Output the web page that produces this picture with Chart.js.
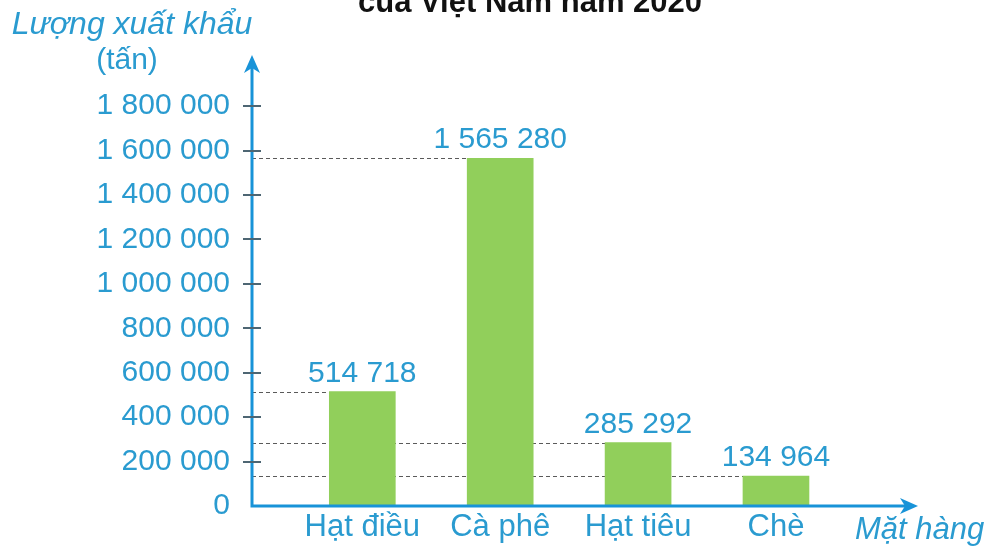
<!DOCTYPE html>
<html lang="vi">
<head>
<meta charset="utf-8">
<title>Lượng xuất khẩu của Việt Nam năm 2020</title>
<script src="https://cdn.jsdelivr.net/npm/chart.js@4.4.1/dist/chart.umd.min.js"></script>
<style>
  html, body { margin: 0; padding: 0; background: #fff; }
  #chart { display: block; }
</style>
</head>
<body>
<canvas id="chart" width="1002" height="553"></canvas>
<script>
// Lượng xuất khẩu (tấn) theo mặt hàng, năm 2020
var categories = ["Hạt điều", "Cà phê", "Hạt tiêu", "Chè"];
var exportTonnes = [514718, 1565280, 285292, 134964];
var yTicks = [0, 200000, 400000, 600000, 800000, 1000000, 1200000, 1400000, 1600000, 1800000];

var TEXT_BLUE = "#2a9bd0";
var AXIS_BLUE = "#1893d8";
var BAR_GREEN = "#91cf5b";
var FONT = "'Liberation Sans', Arial, sans-serif";

function fmt(n) {
    return String(n).replace(/\B(?=(\d{3})+(?!\d))/g, " ");
}

function arrowHead(ctx, x, y, dir) {
    // dir: "up" or "right"; (x, y) is the tip
    ctx.beginPath();
    if (dir === "up") {
        ctx.moveTo(x, y);
        ctx.lineTo(x + 8, y + 18);
        ctx.lineTo(x, y + 13);
        ctx.lineTo(x - 8, y + 18);
    } else {
        ctx.moveTo(x, y);
        ctx.lineTo(x - 18, y - 8);
        ctx.lineTo(x - 13, y);
        ctx.lineTo(x - 18, y + 8);
    }
    ctx.closePath();
    ctx.fill();
}

var decorations = {
    id: "decorations",
    beforeDatasetsDraw: function(chart) {
        // dotted guides from the y axis to each bar top
        var ctx = chart.ctx, area = chart.chartArea;
        var bars = chart.getDatasetMeta(0).data;
        ctx.save();
        ctx.strokeStyle = "#5a5a5a";
        ctx.lineWidth = 1.2;
        ctx.setLineDash([4, 3]);
        bars.forEach(function(bar) {
            var y = Math.round(bar.y) + 0.5;
            ctx.beginPath();
            ctx.moveTo(area.left, y);
            ctx.lineTo(bar.x - bar.width / 2, y);
            ctx.stroke();
        });
        ctx.restore();
    },
    afterDatasetsDraw: function(chart) {
        var ctx = chart.ctx, area = chart.chartArea;
        var yScale = chart.scales.y;
        var bars = chart.getDatasetMeta(0).data;
        ctx.save();

        // axes with arrows
        ctx.strokeStyle = AXIS_BLUE;
        ctx.fillStyle = AXIS_BLUE;
        ctx.lineWidth = 3;
        ctx.beginPath();
        ctx.moveTo(area.left, area.bottom + 1.5);
        ctx.lineTo(area.left, area.top + 10);
        ctx.moveTo(area.left - 1.5, area.bottom);
        ctx.lineTo(area.right - 10, area.bottom);
        ctx.stroke();
        arrowHead(ctx, area.left, area.top, "up");
        arrowHead(ctx, area.right, area.bottom, "right");

        // cross tick marks on the y axis
        ctx.strokeStyle = "#4d6673";
        ctx.lineWidth = 2;
        yTicks.forEach(function(v) {
            if (v === 0) return;
            var y = Math.round(yScale.getPixelForValue(v));
            ctx.beginPath();
            ctx.moveTo(area.left - 9, y);
            ctx.lineTo(area.left + 9, y);
            ctx.stroke();
        });

        // value labels above bars
        ctx.fillStyle = TEXT_BLUE;
        ctx.font = "30px " + FONT;
        ctx.textAlign = "center";
        ctx.textBaseline = "alphabetic";
        bars.forEach(function(bar, i) {
            ctx.fillText(fmt(exportTonnes[i]), bar.x, bar.y - 10);
        });

        // axis titles
        ctx.font = "italic 32px " + FONT;
        ctx.fillText("Lượng xuất khẩu", 132, 34);
        ctx.font = "30px " + FONT;
        ctx.fillText("(tấn)", 127, 69);
        ctx.font = "italic 31px " + FONT;
        ctx.textAlign = "left";
        ctx.fillText("Mặt hàng", 855, 539);

        // chart title (clipped at the top edge)
        ctx.fillStyle = "#111";
        ctx.font = "bold 31px " + FONT;
        ctx.textAlign = "center";
        ctx.fillText("của Việt Nam năm 2020", 530, 12);

        ctx.restore();
    }
};

new Chart(document.getElementById("chart"), {
    type: "bar",
    data: {
        datasets: [{
            data: exportTonnes.map(function(v, i) { return { x: i + 1, y: v }; }),
            backgroundColor: BAR_GREEN,
            barThickness: 66,
            borderWidth: 0
        }]
    },
    options: {
        responsive: false,
        devicePixelRatio: 1,
        animation: false,
        layout: { padding: { left: 96, right: 84, top: 55, bottom: 0 } },
        plugins: { legend: { display: false }, tooltip: { enabled: false } },
        scales: {
            x: {
                type: "linear",
                min: 0.2,
                max: 5.03,
                offset: false,
                grid: { display: false, drawTicks: false, offset: false },
                border: { display: false },
                afterBuildTicks: function(s) {
                    s.ticks = categories.map(function(c, i) { return { value: i + 1 }; });
                },
                afterFit: function(s) { s.height = 47; },
                ticks: {
                    padding: 3,
                    color: TEXT_BLUE,
                    font: { family: FONT, size: 31 },
                    callback: function(v) { return categories[v - 1]; }
                }
            },
            y: {
                min: 0,
                max: 2030000,
                grid: { display: false, drawTicks: false },
                border: { display: false },
                afterBuildTicks: function(s) {
                    s.ticks = yTicks.map(function(v) { return { value: v }; });
                },
                afterFit: function(s) { s.width = 156; },
                ticks: {
                    padding: 22,
                    color: TEXT_BLUE,
                    font: { family: FONT, size: 30 },
                    callback: function(v) { return fmt(v); }
                }
            }
        }
    },
    plugins: [decorations]
});
</script>
</body>
</html>
